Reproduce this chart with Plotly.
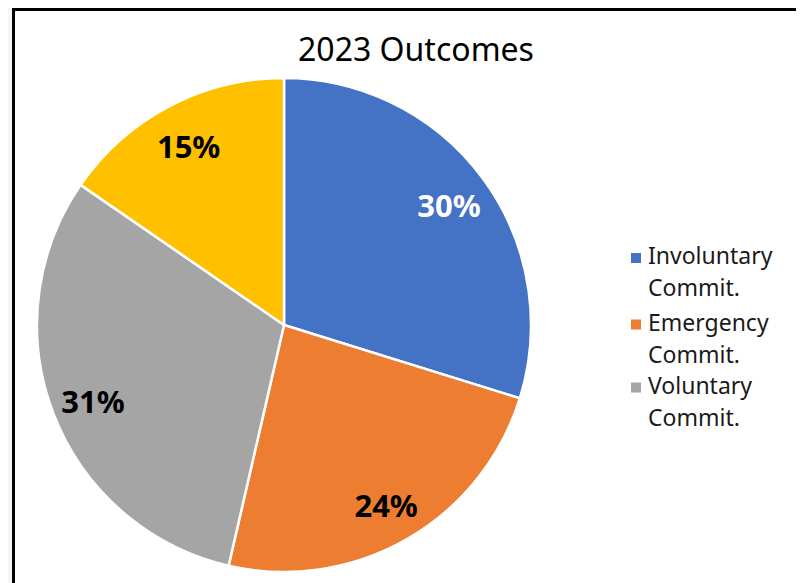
import plotly.graph_objects as go

# Data
categories = ["Involuntary Commit.", "Emergency Commit.", "Voluntary Commit.", "Other"]
values = [29.8, 23.8, 31.0, 15.4]
colors = ["#4472C4", "#ED7D31", "#A5A5A5", "#FFC000"]
label_colors = ["white", "black", "black", "black"]
legend_labels = [["Involuntary", "Commit."], ["Emergency", "Commit."], ["Voluntary", "Commit."]]

OFF = 8  # page body margin
W, H = 804 - OFF, 583 - OFF
FONT = "Noto Sans"

def px(x):
    return (x - OFF) / W

def py(y):
    return 1 - (y - OFF) / H

dom = dict(x=[px(37), px(531)], y=[py(572), py(78)])
dom_lab = dict(x=[px(37), px(531)], y=[py(574), py(80)])

fig = go.Figure()
# slices
fig.add_trace(go.Pie(
    labels=categories,
    values=values,
    sort=False,
    direction="clockwise",
    rotation=0,
    marker=dict(colors=colors, line=dict(color="white", width=2.5)),
    textinfo="none",
    domain=dom,
    showlegend=False,
    hoverinfo="label+percent",
))
# labels (ring overlay so text sits near the rim)
fig.add_trace(go.Pie(
    labels=categories,
    values=values,
    sort=False,
    direction="clockwise",
    rotation=0,
    hole=0.66,
    marker=dict(colors=["rgba(0,0,0,0)"] * len(values), line=dict(width=0)),
    texttemplate="%{percent:.0%}",
    textposition="inside",
    insidetextorientation="horizontal",
    textfont=dict(family=FONT, size=31, color=label_colors, weight="bold"),
    domain=dom_lab,
    showlegend=False,
    hoverinfo="skip",
))

shapes = [
    dict(type="rect", xref="paper", yref="paper",
         x0=px(13.5), x1=px(815), y0=py(9.5), y1=py(600),
         fillcolor="white", line=dict(color="black", width=3), layer="below"),
]
annotations = []
legend_y = [257, 323.5, 386.5]
line_gap = 31.5
for i, lines in enumerate(legend_labels):
    yc = legend_y[i]
    shapes.append(dict(type="rect", xref="paper", yref="paper",
                       x0=px(631), x1=px(641), y0=py(yc + 6), y1=py(yc - 4),
                       fillcolor=colors[i], line=dict(width=0)))
    for j, txt in enumerate(lines):
        annotations.append(dict(text=txt, xref="paper", yref="paper",
                                x=px(646), y=py(yc + j * line_gap - 1.5),
                                xanchor="left", yanchor="middle",
                                align="left", showarrow=False,
                                font=dict(family=FONT, size=23, color="#1a1a1a")))

fig.update_layout(
    width=W, height=H,
    margin=dict(l=0, r=0, t=0, b=0),
    paper_bgcolor="#f6f6f6",
    plot_bgcolor="rgba(0,0,0,0)",
    title=dict(text="2023 Outcomes", x=px(416), xanchor="center",
               y=py(50), yanchor="middle",
               font=dict(family=FONT, size=32, color="black")),
    shapes=shapes,
    annotations=annotations,
    showlegend=False,
)

fig.write_html("out.html")
